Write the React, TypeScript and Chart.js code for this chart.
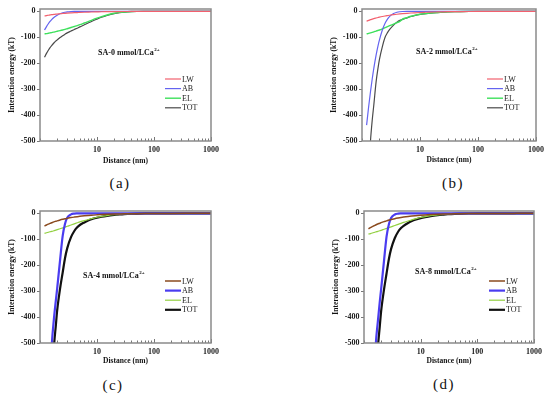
import React, { useEffect, useRef } from "react";
import { Chart, registerables } from "chart.js";

Chart.register(...registerables);

// ---------- data ----------
const distances = [1.2, 1.3, 1.4, 1.5, 1.6, 1.75, 1.9, 2, 2.25, 2.5, 2.75, 3, 3.5, 4, 4.5, 5, 6, 7, 8, 10, 12, 15, 20, 25, 30, 40, 50, 70, 100, 200, 500, 1000];

const seriesNames = ["LW", "AB", "EL", "TOT"];
const panelTexts = ["SA-0 mmol/LCa", "SA-2 mmol/LCa", "SA-4 mmol/LCa", "SA-8 mmol/LCa"];
const panelSup = "2+";
const panelCaptions = ["(a)", "(b)", "(c)", "(d)"];
const yTickValues = [0, -100, -200, -300, -400, -500];
const xTickValues = [1, 2, 3, 4, 5, 6, 7, 8, 9, 10, 20, 30, 40, 50, 60, 70, 80, 90, 100, 200, 300, 400, 500, 600, 700, 800, 900, 1000];
const xLabelValues = [10, 100, 1000];
const yTitle = "Interaction energy (kT)";
const xTitle = "Distance (nm)";

// panel (a): SA-0
const lwA = [-18, -16.5, -15, -14, -13, -12, -11, -10.5, -9.3, -8.4, -7.6, -7, -6, -5.2, -4.7, -4.2, -3.5, -3, -2.6, -2.1, -1.7, -1.4, -1, -0.8, -0.7, -0.5, -0.4, -0.3, -0.2, -0.1, 0, 0];
const abA = [-72, -59, -48, -39, -32, -24, -18, -15, -9.2, -5.6, -3.5, -2.1, -0.8, -0.3, -0.1, 0, 0, 0, 0, 0, 0, 0, 0, 0, 0, 0, 0, 0, 0, 0, 0, 0];
const elA = [-87, -86, -84.5, -83, -82, -80, -78, -77, -74.5, -72, -69.5, -67, -62.5, -58.5, -55, -51.5, -45, -39.5, -34.5, -26.5, -20.5, -14, -7.5, -4, -2.3, -0.8, -0.3, -0.1, 0, 0, 0, 0];
const totA = [-177, -162, -150, -140, -132, -122, -114, -110, -101, -94, -88, -83, -76, -70, -65, -60, -52, -45, -39, -30, -23, -16, -8.8, -5, -3, -1.3, -0.7, -0.4, -0.2, -0.1, 0, 0];

// panel (b): SA-2
const lwB = [-38, -35, -32, -30, -28, -25.7, -23.7, -22.5, -20, -18, -16.4, -15, -12.9, -11.3, -10, -9, -7.5, -6.4, -5.6, -4.5, -3.8, -3, -2.3, -1.8, -1.5, -1.1, -0.9, -0.6, -0.45, -0.2, -0.1, 0];
const abB = [-439, -369, -310, -261, -219, -169, -130, -110, -71, -46, -30, -19.5, -8.5, -3.5, -1.5, -0.7, -0.1, 0, 0, 0, 0, 0, 0, 0, 0, 0, 0, 0, 0, 0, 0, 0];
const elB = [-87, -85, -83, -81, -79, -76, -73.5, -72, -67.5, -63, -59, -55.5, -49, -43.5, -38.5, -30, -24, -19, -15.5, -11, -9, -6.5, -4.3, -3, -2.1, -1.1, -0.6, -0.2, -0.1, 0, 0, 0];
const totB = [-780, -620, -500, -420, -360, -272, -215, -185, -135, -100, -82, -70, -53, -42, -35, -31, -25, -20, -16.5, -12, -9.5, -7, -4.8, -3.4, -2.4, -1.3, -0.8, -0.35, -0.15, 0, 0, 0];

// panel (c): SA-4
const lwC = [-49, -45, -41.5, -38.7, -36.3, -33, -30.5, -29, -25.8, -23.2, -21, -19.3, -16.5, -14.5, -12.9, -11.6, -9.7, -8.3, -7.2, -5.8, -4.8, -3.9, -2.9, -2.3, -1.9, -1.45, -1.15, -0.8, -0.6, -0.3, -0.1, 0];
const abC = [-1400, -1100, -850, -650, -515, -410, -335, -290, -180, -87, -40, -17, -4, -1, -0.3, 0, 0, 0, 0, 0, 0, 0, 0, 0, 0, 0, 0, 0, 0, 0, 0, 0];
const elC = [-77, -75, -73, -71, -69.5, -67, -64.5, -63, -59.5, -56, -53, -50, -45, -40.5, -36.5, -33, -28, -24, -20.5, -15, -11.5, -8.5, -5.5, -3.8, -2.6, -1.3, -0.7, -0.3, -0.1, 0, 0, 0];
const totC = [-1500, -1250, -1000, -820, -690, -520, -430, -375, -290, -228, -172, -135, -92, -68, -54, -45, -35, -28, -23, -17, -13, -9.5, -6.3, -4.4, -3.1, -1.7, -1, -0.45, -0.2, -0.05, 0, 0];

// panel (d): SA-8
const lwD = [-60, -55, -51, -48, -45, -41, -38, -36, -32, -29, -26, -24, -20.5, -18, -16, -14.4, -12, -10.3, -9, -7.2, -6, -4.8, -3.6, -2.9, -2.4, -1.8, -1.4, -1, -0.7, -0.35, -0.15, -0.07];
const abD = [-1450, -1150, -880, -680, -520, -420, -340, -295, -185, -90, -42, -18, -4.5, -1.2, -0.3, 0, 0, 0, 0, 0, 0, 0, 0, 0, 0, 0, 0, 0, 0, 0, 0, 0];
const elD = [-80, -78, -76, -74, -72, -69.5, -67, -65.5, -61.5, -58, -55, -52, -47, -42.5, -38.5, -35, -29.5, -25, -21.5, -16, -12.5, -9, -6, -4, -2.8, -1.4, -0.7, -0.3, -0.1, 0, 0, 0];
const totD = [-1550, -1300, -1050, -850, -700, -525, -435, -380, -295, -232, -176, -138, -95, -71, -57, -48, -37, -30, -25, -18.5, -14.5, -10.5, -7, -5, -3.6, -2, -1.2, -0.6, -0.3, -0.1, 0, 0];

const panelSeries = [
  [lwA, abA, elA, totA],
  [lwB, abB, elB, totB],
  [lwC, abC, elC, totC],
  [lwD, abD, elD, totD],
];

// ---------- styles ----------
const FONT = "'Liberation Serif', 'Times New Roman', serif";
const paletteLight = { colors: ["#f2606e", "#6464f0", "#3ee05c", "#4a4a4a"], widths: [1.2, 1.2, 1.4, 1.2] };
const paletteDark = { colors: ["#8a4a1e", "#4a3cf0", "#92d040", "#111111"], widths: [1.5, 2.2, 1.2, 2.2] };

const PANELS = [
  { left: 0, top: 0, width: 275, height: 169, pad: { left: 0, right: 64, top: 9, bottom: 0 }, xTitlePad: 3, palette: paletteLight, text: { dx: 58, dy: 44 }, caption: { x: 120, y: 183 } },
  { left: 275, top: 0, width: 275, height: 169, pad: { left: 47, right: 14, top: 9, bottom: 0 }, xTitlePad: 4, palette: paletteLight, text: { dx: 54, dy: 43 }, caption: { x: 453, y: 183 } },
  { left: 0, top: 196, width: 275, height: 175, pad: { left: 0, right: 64, top: 15, bottom: 0 }, xTitlePad: 5, palette: paletteDark, text: { dx: 43, dy: 65 }, caption: { x: 113, y: 385 } },
  { left: 275, top: 196, width: 275, height: 175, pad: { left: 49, right: 16, top: 15, bottom: 0 }, xTitlePad: 5, palette: paletteDark, text: { dx: 51, dy: 61 }, caption: { x: 444, y: 384 } },
];

const decorPlugin = {
  id: "decor",
  afterDraw(chart: any, _args: any, opts: any) {
    const { ctx, chartArea: ca, scales } = chart;
    const xs = scales.x;
    ctx.save();
    // inward ticks on the x axis
    ctx.strokeStyle = "#777";
    ctx.lineWidth = 1;
    xTickValues.forEach((v) => {
      const px = Math.round(xs.getPixelForValue(v)) + 0.5;
      const len = xLabelValues.includes(v) ? 4 : 2.5;
      ctx.beginPath();
      ctx.moveTo(px, ca.bottom);
      ctx.lineTo(px, ca.bottom - len);
      ctx.stroke();
    });
    // frame
    ctx.strokeStyle = "#8a8a8a";
    ctx.lineWidth = 1.5;
    ctx.strokeRect(ca.left, ca.top, ca.right - ca.left, ca.bottom - ca.top);
    // annotation text
    ctx.fillStyle = "#111";
    ctx.textBaseline = "middle";
    ctx.textAlign = "left";
    ctx.font = `bold 8px ${FONT}`;
    const tx = ca.left + opts.textDx;
    const ty = ca.top + opts.textDy;
    ctx.fillText(opts.text, tx, ty);
    const w = ctx.measureText(opts.text).width;
    ctx.font = `bold 5px ${FONT}`;
    ctx.fillText(panelSup, tx + w + 0.5, ty - 3.5);
    // legend
    ctx.font = `8px ${FONT}`;
    chart.data.datasets.forEach((ds: any, i: number) => {
      const ly = ca.top + 70 + i * 9.6;
      const lx = ca.left + 125;
      ctx.strokeStyle = ds.borderColor;
      ctx.lineWidth = ds.borderWidth;
      ctx.beginPath();
      ctx.moveTo(lx, ly);
      ctx.lineTo(lx + 16, ly);
      ctx.stroke();
      ctx.fillStyle = "#222";
      ctx.fillText(ds.label, lx + 17, ly + 0.5);
    });
    ctx.restore();
  },
};

function Panel({ index }: { index: number }) {
  const ref = useRef<HTMLCanvasElement>(null);
  const cfg = PANELS[index];
  useEffect(() => {
    const series = panelSeries[index];
    const chart = new Chart(ref.current as HTMLCanvasElement, {
      type: "line",
      data: {
        datasets: seriesNames.map((name, i) => ({
          label: name,
          data: distances.map((d, k) => ({ x: d, y: series[i][k] })),
          borderColor: cfg.palette.colors[i],
          backgroundColor: cfg.palette.colors[i],
          borderWidth: cfg.palette.widths[i],
          pointRadius: 0,
          fill: false,
          cubicInterpolationMode: "monotone" as const,
        })),
      },
      options: {
        responsive: false,
        animation: false,
        layout: { padding: cfg.pad },
        plugins: {
          legend: { display: false },
          tooltip: { enabled: false },
          decor: { text: panelTexts[index], textDx: cfg.text.dx, textDy: cfg.text.dy },
        } as any,
        scales: {
          x: {
            type: "logarithmic",
            min: 1,
            max: 1000,
            border: { display: false },
            grid: { display: false, drawTicks: false, tickLength: 0 },
            afterBuildTicks: (scale: any) => {
              scale.ticks = xTickValues.map((v) => ({ value: v }));
            },
            afterFit: (scale: any) => {
              scale.height = 28;
            },
            ticks: {
              autoSkip: false,
              maxRotation: 0,
              padding: 4,
              color: "#222",
              font: { family: FONT, size: 8, weight: "bold" },
              callback: (v: any) => (xLabelValues.includes(Number(v)) ? String(v) : ""),
            },
            title: {
              display: true,
              text: xTitle,
              color: "#111",
              font: { family: FONT, size: 7.5, weight: "bold" },
              padding: { top: 0, bottom: cfg.xTitlePad },
            },
          },
          y: {
            type: "linear",
            min: -500,
            max: 9,
            border: { display: false },
            grid: { drawOnChartArea: false, drawTicks: true, tickLength: 3, color: "#777" },
            afterBuildTicks: (scale: any) => {
              scale.ticks = yTickValues.map((v) => ({ value: v }));
            },
            afterFit: (scale: any) => {
              scale.width = 40;
            },
            ticks: {
              padding: 1.5,
              color: "#222",
              font: { family: FONT, size: 8, weight: "bold" },
            },
            title: {
              display: true,
              text: yTitle,
              color: "#111",
              font: { family: FONT, size: 7.5, weight: "bold" },
              padding: { top: 7.5, bottom: 0 },
            },
          },
        },
      },
      plugins: [decorPlugin],
    });
    return () => chart.destroy();
  }, []);
  return (
    <>
      <canvas
        ref={ref}
        width={cfg.width}
        height={cfg.height}
        style={{ position: "absolute", left: cfg.left, top: cfg.top, width: cfg.width, height: cfg.height }}
      />
      <div
        style={{
          position: "absolute",
          left: cfg.caption.x - 20,
          top: cfg.caption.y - 9,
          width: 40,
          height: 18,
          lineHeight: "18px",
          textAlign: "center",
          fontFamily: FONT,
          fontSize: 15,
          letterSpacing: 1.5,
          color: "#111",
        }}
      >
        {panelCaptions[index]}
      </div>
    </>
  );
}

export default function App() {
  return (
    <div style={{ position: "fixed", left: 0, top: 0, width: 550, height: 396, background: "#fff", overflow: "hidden" }}>
      {PANELS.map((_, i) => (
        <Panel key={i} index={i} />
      ))}
    </div>
  );
}
